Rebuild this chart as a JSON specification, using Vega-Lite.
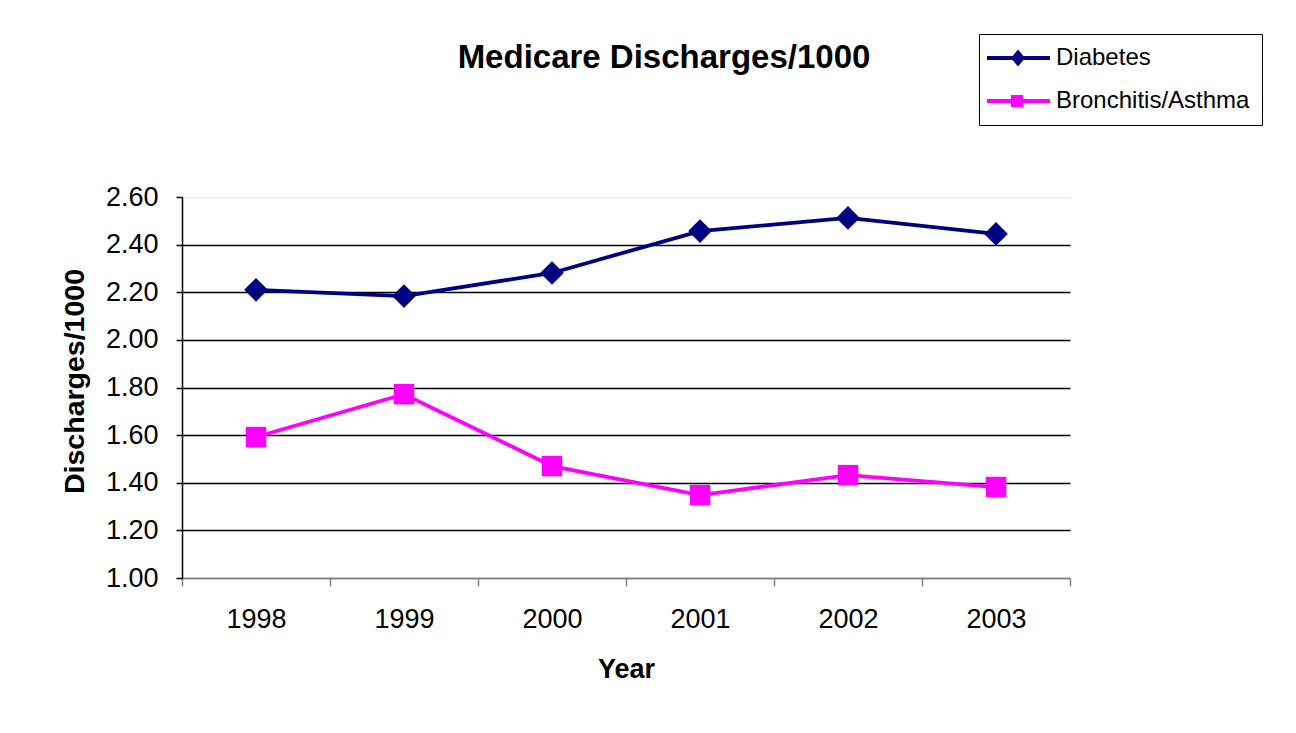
{
  "$schema": "https://vega.github.io/schema/vega-lite/v6.json",
  "autosize": {"type": "none"},
  "width": 888,
  "height": 381,
  "padding": {"left": 182, "top": 197, "right": 226, "bottom": 155},
  "background": "white",
  "config": {
    "font": "Liberation Sans",
    "view": {"stroke": null}
  },
  "title": {
    "text": "Medicare Discharges/1000",
    "font": "Liberation Sans",
    "fontSize": 33,
    "fontWeight": "bold",
    "color": "black",
    "anchor": "middle",
    "dx": 38,
    "offset": -41
  },
  "data": {
    "values": [
      {"Year": "1998", "Series": "Diabetes", "Value": 2.21},
      {"Year": "1999", "Series": "Diabetes", "Value": 2.184},
      {"Year": "2000", "Series": "Diabetes", "Value": 2.281},
      {"Year": "2001", "Series": "Diabetes", "Value": 2.457},
      {"Year": "2002", "Series": "Diabetes", "Value": 2.512},
      {"Year": "2003", "Series": "Diabetes", "Value": 2.445},
      {"Year": "1998", "Series": "Bronchitis/Asthma", "Value": 1.592},
      {"Year": "1999", "Series": "Bronchitis/Asthma", "Value": 1.772},
      {"Year": "2000", "Series": "Bronchitis/Asthma", "Value": 1.47},
      {"Year": "2001", "Series": "Bronchitis/Asthma", "Value": 1.348},
      {"Year": "2002", "Series": "Bronchitis/Asthma", "Value": 1.432},
      {"Year": "2003", "Series": "Bronchitis/Asthma", "Value": 1.382}
    ]
  },
  "encoding": {
    "x": {
      "field": "Year",
      "type": "ordinal",
      "bandPosition": 0.5,
      "scale": {"type": "band", "paddingInner": 0, "paddingOuter": 0},
      "axis": {
        "title": "Year",
        "titleFont": "Liberation Sans",
        "titleFontSize": 27,
        "titleFontWeight": "bold",
        "titleColor": "black",
        "titlePadding": 24,
        "labelFont": "Liberation Sans",
        "labelFontSize": 27,
        "labelColor": "black",
        "labelAngle": 0,
        "labelPadding": 20,
        "tickBand": "extent",
        "tickSize": 8,
        "tickColor": "#808080",
        "tickWidth": 1.5,
        "domainColor": "#808080",
        "domainWidth": 1.5,
        "grid": false
      }
    },
    "y": {
      "field": "Value",
      "type": "quantitative",
      "scale": {"domain": [1, 2.6], "nice": false, "zero": false},
      "axis": {
        "title": "Discharges/1000",
        "titleFont": "Liberation Sans",
        "titleFontSize": 28.5,
        "titleFontWeight": "bold",
        "titleColor": "black",
        "titlePadding": 16,
        "titleY": 184,
        "values": [1, 1.2, 1.4, 1.6, 1.8, 2, 2.2, 2.4, 2.6],
        "format": ".2f",
        "labelFont": "Liberation Sans",
        "labelFontSize": 27,
        "labelColor": "black",
        "labelPadding": 18,
        "tickSize": 6,
        "tickColor": "black",
        "tickWidth": 1.5,
        "domainColor": "black",
        "domainWidth": 1.5,
        "grid": true,
        "gridWidth": 1.5,
        "gridColor": {
          "condition": [
            {"test": "datum.value > 2.59", "value": "#eeeeee"},
            {"test": "datum.value < 1.01", "value": "#808080"}
          ],
          "value": "black"
        }
      }
    }
  },
  "layer": [
    {
      "mark": {"type": "line", "strokeWidth": 3.8},
      "encoding": {
        "color": {
          "field": "Series",
          "type": "nominal",
          "scale": {"domain": ["Diabetes", "Bronchitis/Asthma"], "range": ["#000080", "#FF00FF"]},
          "legend": null
        }
      }
    },
    {
      "mark": {"type": "point", "filled": true, "opacity": 1},
      "encoding": {
        "color": {
          "field": "Series",
          "type": "nominal",
          "scale": {"domain": ["Diabetes", "Bronchitis/Asthma"], "range": ["#000080", "#FF00FF"]},
          "legend": null
        },
        "shape": {
          "field": "Series",
          "type": "nominal",
          "scale": {"domain": ["Diabetes", "Bronchitis/Asthma"], "range": ["diamond", "square"]},
          "legend": null
        },
        "size": {
          "field": "Series",
          "type": "nominal",
          "scale": {"domain": ["Diabetes", "Bronchitis/Asthma"], "range": [560, 420]},
          "legend": null
        }
      }
    },
    {
      "transform": [{"filter": "false"}],
      "mark": {"type": "point", "filled": true, "opacity": 1, "size": 400},
      "encoding": {
        "color": {
          "field": "Series",
          "type": "nominal",
          "scale": {"domain": ["Diabetes", "Bronchitis/Asthma"], "range": ["#000080", "#FF00FF"]},
          "legend": {
            "title": null,
            "orient": "none",
            "legendX": 797,
            "legendY": -163,
            "direction": "vertical",
            "strokeColor": "black",
            "fillColor": "white",
            "padding": 12,
            "rowPadding": 19,
            "symbolSize": 400,
            "symbolStrokeWidth": 0,
            "symbolOpacity": 1,
            "labelOffset": 41,
            "labelFont": "Liberation Sans",
            "labelFontSize": 24,
            "labelColor": "black",
            "labelLimit": 400
          }
        },
        "shape": {
          "field": "Series",
          "type": "nominal",
          "scale": {
            "domain": ["Diabetes", "Bronchitis/Asthma"],
            "range": [
              "M-1.6,-0.2H4.7V0.2H-1.6Z M1.5,-0.85L2.2,0L1.5,0.85L0.8,0Z",
              "M-1.6,-0.2H4.7V0.2H-1.6Z M0.8,-0.6H2.0V0.6H0.8Z"
            ]
          },
          "legend": {
            "title": null,
            "orient": "none",
            "legendX": 797,
            "legendY": -163,
            "direction": "vertical",
            "strokeColor": "black",
            "fillColor": "white",
            "padding": 12,
            "rowPadding": 19,
            "symbolSize": 400,
            "symbolStrokeWidth": 0,
            "symbolOpacity": 1,
            "labelOffset": 41,
            "labelFont": "Liberation Sans",
            "labelFontSize": 24,
            "labelColor": "black",
            "labelLimit": 400
          }
        }
      }
    }
  ],
  "resolve": {"scale": {"color": "independent", "shape": "independent", "size": "independent"}}
}
